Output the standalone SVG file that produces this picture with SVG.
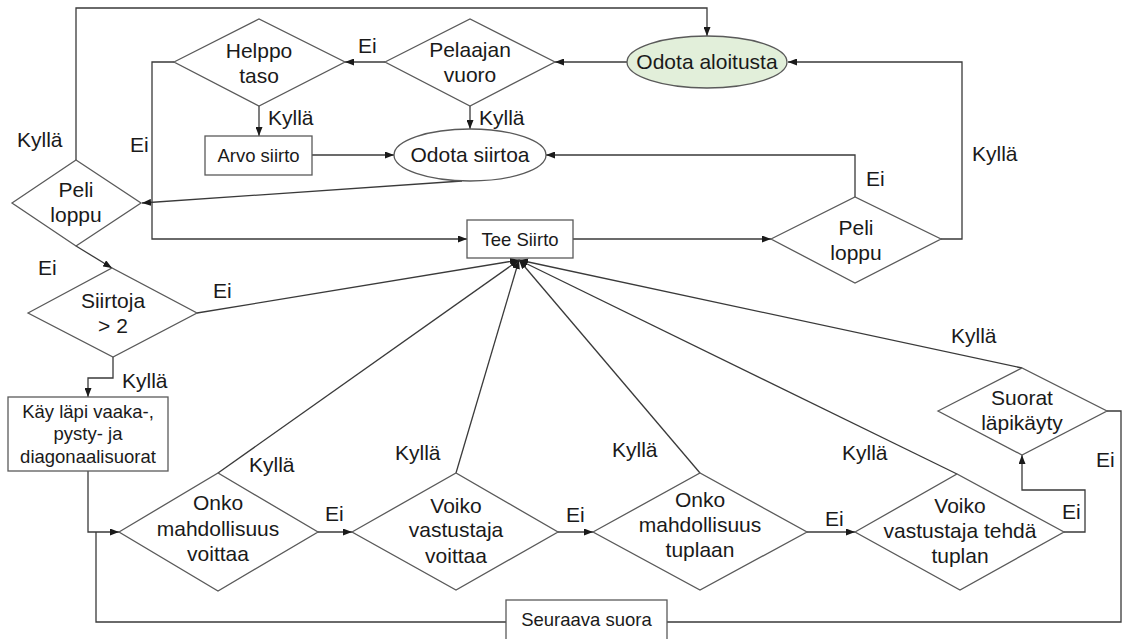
<svg xmlns="http://www.w3.org/2000/svg" width="1123" height="639" viewBox="0 0 1123 639">
<style>
.ln{fill:none;stroke:#3a3a3a;stroke-width:1.3}
.sh{fill:#ffffff;stroke:#5a5a5a;stroke-width:1.3}
.gr{fill:#e2efda;stroke:#5a5a5a;stroke-width:1.3}
text{font-family:"Liberation Sans",Arial,sans-serif;fill:#1a1a1a}
.t{font-size:21px;text-anchor:middle}
.b{font-size:18.5px;text-anchor:middle}
.l{font-size:21px}
</style>
<defs>
<marker id="ah" markerUnits="userSpaceOnUse" markerWidth="9" markerHeight="7" refX="9" refY="3.5" orient="auto">
<path d="M0,0 L9,3.5 L0,7 z" fill="#1a1a1a"/>
</marker>
</defs>
<rect width="1123" height="639" fill="#ffffff"/>
<g id="connectors">
<path class="ln" d="M76,160 V8 H707 V36" marker-end="url(#ah)"/>
<path class="ln" d="M627,62 H555" marker-end="url(#ah)"/>
<path class="ln" d="M385,62 H345" marker-end="url(#ah)"/>
<path class="ln" d="M259,106 V136" marker-end="url(#ah)"/>
<path class="ln" d="M470,106 V129" marker-end="url(#ah)"/>
<path class="ln" d="M312,155 H394" marker-end="url(#ah)"/>
<path class="ln" d="M174,62 H152 V239 H467" marker-end="url(#ah)"/>
<path class="ln" d="M462,181 L142,203" marker-end="url(#ah)"/>
<path class="ln" d="M855,197 V155 H546" marker-end="url(#ah)"/>
<path class="ln" d="M573,239 H771" marker-end="url(#ah)"/>
<path class="ln" d="M941,239 H962 V62 H788" marker-end="url(#ah)"/>
<path class="ln" d="M76,246 L112,268" marker-end="url(#ah)"/>
<path class="ln" d="M197,313 L519,260" marker-end="url(#ah)"/>
<path class="ln" d="M113,357 V378 H88 V397" marker-end="url(#ah)"/>
<path class="ln" d="M88,471 V532 H119" marker-end="url(#ah)"/>
<path class="ln" d="M218,473 L519,260" marker-end="url(#ah)"/>
<path class="ln" d="M318,532 H352" marker-end="url(#ah)"/>
<path class="ln" d="M456,473 L519,260" marker-end="url(#ah)"/>
<path class="ln" d="M558,532 H593" marker-end="url(#ah)"/>
<path class="ln" d="M700,473 L519,260" marker-end="url(#ah)"/>
<path class="ln" d="M807,532 H855" marker-end="url(#ah)"/>
<path class="ln" d="M957,474 L519,260" marker-end="url(#ah)"/>
<path class="ln" d="M1064,532 H1085 V490 H1022 V455" marker-end="url(#ah)"/>
<path class="ln" d="M1022,368 L519,260" marker-end="url(#ah)"/>
<path class="ln" d="M1107,411 H1121 V622 H667"/>
<path class="ln" d="M506,622 H96 V532"/>
</g>
<g id="odota-aloitusta">
<ellipse class="gr" cx="707" cy="62" rx="80" ry="26"/>
<text class="t" x="707" y="69">Odota aloitusta</text>
</g>
<g id="pelaajan-vuoro">
<polygon class="sh" points="385,62 470,19 555,62 470,106"/>
<text class="t" x="470" y="57">Pelaajan</text>
<text class="t" x="470" y="82">vuoro</text>
</g>
<g id="helppo-taso">
<polygon class="sh" points="174,62 259,19 345,62 259,106"/>
<text class="t" x="259" y="58">Helppo</text>
<text class="t" x="259" y="83">taso</text>
</g>
<g id="arvo-siirto">
<rect class="sh" x="205" y="136" width="107" height="39"/>
<text class="b" x="258.5" y="162">Arvo siirto</text>
</g>
<g id="odota-siirtoa">
<ellipse class="sh" cx="470" cy="155" rx="76" ry="26"/>
<text class="t" x="470" y="162">Odota siirtoa</text>
</g>
<g id="peli-loppu-1">
<polygon class="sh" points="12,203 76,160 141,203 76,246"/>
<text class="t" x="76" y="197">Peli</text>
<text class="t" x="76" y="222">loppu</text>
</g>
<g id="tee-siirto">
<rect class="sh" x="467" y="220" width="106" height="38"/>
<text class="b" x="520" y="246">Tee Siirto</text>
</g>
<g id="peli-loppu-2">
<polygon class="sh" points="771,239 855,197 941,239 855,283"/>
<text class="t" x="856" y="235">Peli</text>
<text class="t" x="856" y="260">loppu</text>
</g>
<g id="siirtoja">
<polygon class="sh" points="28,313 112,268 197,313 113,357"/>
<text class="t" x="113" y="308">Siirtoja</text>
<text class="t" x="113" y="333">&gt; 2</text>
</g>
<g id="kay-lapi">
<rect class="sh" x="8" y="397" width="160" height="74"/>
<text class="b" x="88" y="418">Käy läpi vaaka-,</text>
<text class="b" x="88" y="440">pysty- ja</text>
<text class="b" x="88" y="463">diagonaalisuorat</text>
</g>
<g id="onko-voittaa">
<polygon class="sh" points="119,532 218,473 318,532 218,591"/>
<text class="t" x="218" y="510">Onko</text>
<text class="t" x="218" y="536">mahdollisuus</text>
<text class="t" x="218" y="561">voittaa</text>
</g>
<g id="voiko-voittaa">
<polygon class="sh" points="352,532 456,473 558,532 456,590"/>
<text class="t" x="456" y="513">Voiko</text>
<text class="t" x="456" y="537">vastustaja</text>
<text class="t" x="456" y="563">voittaa</text>
</g>
<g id="onko-tuplaan">
<polygon class="sh" points="593,532 700,473 807,532 700,590"/>
<text class="t" x="700" y="507">Onko</text>
<text class="t" x="700" y="532">mahdollisuus</text>
<text class="t" x="700" y="557">tuplaan</text>
</g>
<g id="voiko-tuplan">
<polygon class="sh" points="855,532 957,474 1064,532 960,590"/>
<text class="t" x="960" y="513">Voiko</text>
<text class="t" x="960" y="538">vastustaja tehdä</text>
<text class="t" x="960" y="563">tuplan</text>
</g>
<g id="suorat-lapikayty">
<polygon class="sh" points="938,411 1022,368 1107,411 1022,455"/>
<text class="t" x="1022" y="405">Suorat</text>
<text class="t" x="1022" y="430">läpikäyty</text>
</g>
<g id="seuraava-suora">
<rect class="sh" x="506" y="600" width="161" height="42"/>
<text class="b" x="586.5" y="626">Seuraava suora</text>
</g>
<g id="labels">
<text class="l" x="17" y="147">Kyllä</text>
<text class="l" x="130" y="152">Ei</text>
<text class="l" x="358" y="53">Ei</text>
<text class="l" x="268" y="125">Kyllä</text>
<text class="l" x="479" y="125">Kyllä</text>
<text class="l" x="972" y="161">Kyllä</text>
<text class="l" x="866" y="186">Ei</text>
<text class="l" x="38" y="275">Ei</text>
<text class="l" x="213" y="298">Ei</text>
<text class="l" x="122" y="388">Kyllä</text>
<text class="l" x="249" y="472">Kyllä</text>
<text class="l" x="325" y="521">Ei</text>
<text class="l" x="395" y="460">Kyllä</text>
<text class="l" x="566" y="522">Ei</text>
<text class="l" x="612" y="457">Kyllä</text>
<text class="l" x="825" y="526">Ei</text>
<text class="l" x="842" y="460">Kyllä</text>
<text class="l" x="1062" y="519">Ei</text>
<text class="l" x="951" y="343">Kyllä</text>
<text class="l" x="1096" y="467">Ei</text>
</g>
</svg>
